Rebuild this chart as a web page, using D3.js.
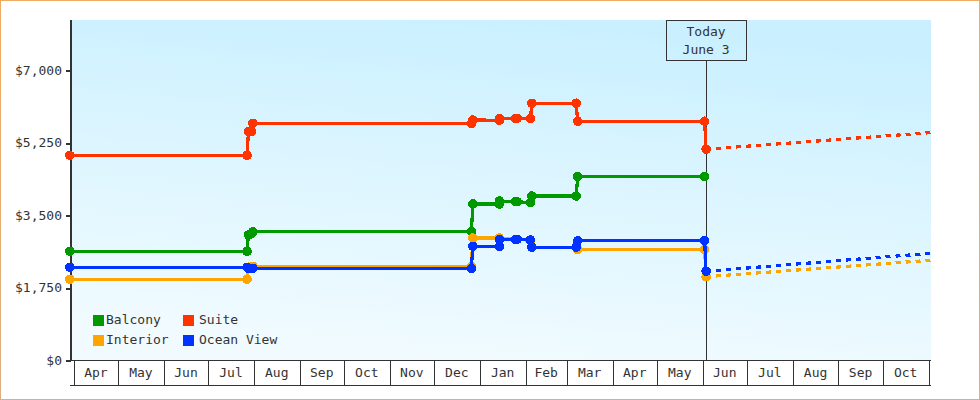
<!DOCTYPE html>
<html>
<head>
<meta charset="utf-8">
<script src="https://cdn.jsdelivr.net/npm/d3@7"></script>
<style>
  html, body { margin: 0; padding: 0; background: #fff; }
  svg { display: block; }
  text { font-family: "DejaVu Sans Mono", monospace; font-size: 13px; fill: #333; }
  .axis path, .axis line { stroke: #333; shape-rendering: crispEdges; }
  .mark { shape-rendering: crispEdges; }
</style>
</head>
<body>
<div id="chart"></div>
<script>
const monthLabels = ['Apr','May','Jun','Jul','Aug','Sep','Oct','Nov','Dec','Jan','Feb','Mar','Apr','May','Jun','Jul','Aug','Sep','Oct'];
const priceTicks = [0, 1750, 3500, 5250, 7000];
const legendNames = ['Balcony', 'Interior', 'Suite', 'Ocean View'];

const balconyDates = ['2013-03-29','2013-07-27','2013-07-28','2013-07-30','2013-07-31','2013-12-26','2013-12-27','2014-01-14','2014-01-14','2014-01-25','2014-01-26','2014-02-04','2014-02-05','2014-03-07','2014-03-08','2014-06-02'];
const balconyPrices = [2636, 2636, 3030, 3060, 3110, 3110, 3778, 3778, 3850, 3833, 3833, 3810, 3970, 3970, 4444, 4444];

const sharedDates = ['2013-03-29','2013-07-27','2013-07-28','2013-07-30','2013-07-31','2013-12-26','2013-12-27','2014-01-14','2014-01-14','2014-01-25','2014-01-26','2014-02-04','2014-02-05','2014-03-07','2014-03-08','2014-06-02','2014-06-03'];
const suitePrices = [4950, 4950, 5530, 5530, 5725, 5725, 5805, 5800, 5845, 5845, 5845, 5845, 6210, 6210, 5775, 5775, 5100];
const interiorPrices = [1960, 1960, 2250, 2250, 2275, 2275, 2957, 2957, 2945, 2925, 2925, 2900, 2732, 2732, 2680, 2680, 2023];
const oceanPrices = [2250, 2250, 2225, 2225, 2225, 2225, 2757, 2757, 2925, 2925, 2925, 2910, 2732, 2732, 2890, 2900, 2153];

const forecastDates = ['2014-06-03', '2014-11-02'];
const suiteForecast = [5100, 5500];
const interiorForecast = [2023, 2420];
const oceanForecast = [2153, 2587];

const todayDate = '2014-06-03';

const width = 980;
const height = 400;
const parseDay = d3.timeParse('%Y-%m-%d');
const colors = { Balcony: '#009900', Interior: '#ffa500', Suite: '#ff3300', 'Ocean View': '#0033ff' };

const x = d3.scaleTime()
  .domain([parseDay('2013-04-01'), parseDay('2014-11-01')])
  .range([73.8, 928.5]);
const y = d3.scaleLinear()
  .domain([0, 7000])
  .range([360.5, 70.5]);

const svg = d3.select('#chart').append('svg')
  .attr('width', width)
  .attr('height', height);

const defs = svg.append('defs');
const bg = defs.append('linearGradient')
  .attr('id', 'plot-bg')
  .attr('gradientUnits', 'userSpaceOnUse')
  .attr('x1', 470).attr('y1', 360).attr('x2', 500).attr('y2', 20);
bg.append('stop').attr('offset', '0%').attr('stop-color', '#f1fbff');
bg.append('stop').attr('offset', '100%').attr('stop-color', '#caf0ff');

const edge = defs.append('linearGradient')
  .attr('id', 'frame')
  .attr('gradientUnits', 'userSpaceOnUse')
  .attr('x1', 0).attr('y1', 0).attr('x2', 0).attr('y2', 400);
edge.append('stop').attr('offset', '0%').attr('stop-color', '#f0ac60');
edge.append('stop').attr('offset', '100%').attr('stop-color', '#dcae80');

svg.append('rect')
  .attr('x', 0.5).attr('y', 0.5)
  .attr('width', width - 1).attr('height', height - 1)
  .attr('fill', '#fff')
  .attr('stroke', 'url(#frame)');

// plot background
svg.append('rect')
  .attr('x', 72).attr('y', 20)
  .attr('width', 859).attr('height', 340)
  .attr('fill', 'url(#plot-bg)');

// month axis: boxes along the bottom, labels sit between the ticks
const monthStarts = d3.timeMonth.range(parseDay('2013-04-01'), parseDay('2014-11-02'));
const xAxis = d3.axisBottom(x)
  .tickValues(monthStarts)
  .tickSize(25)
  .tickFormat('');
const xg = svg.append('g')
  .attr('class', 'axis')
  .attr('transform', 'translate(0,360)')
  .call(xAxis);
xg.select('.domain').remove();
xg.append('line').attr('x1', 71).attr('x2', 931).attr('y1', 0.5).attr('y2', 0.5);
xg.append('line').attr('x1', 70).attr('x2', 931).attr('y1', 25.5).attr('y2', 25.5);

xg.selectAll('.month')
  .data(monthLabels)
.join('text')
  .attr('class', 'month')
  .attr('x', (d, i) => (x(monthStarts[i]) + x(monthStarts[i + 1])) / 2)
  .attr('y', 13)
  .attr('dy', '0.3em')
  .attr('text-anchor', 'middle')
  .text(d => d);

// today marker
const todayX = x(parseDay(todayDate)) + 0.5;
svg.append('line')
  .attr('class', 'mark')
  .attr('x1', todayX).attr('x2', todayX)
  .attr('y1', 60).attr('y2', 360)
  .attr('stroke', '#333');
svg.append('rect')
  .attr('class', 'mark')
  .attr('x', 666.5).attr('y', 20.5)
  .attr('width', 80).attr('height', 40)
  .attr('fill', 'none')
  .attr('stroke', '#333');
svg.append('text')
  .attr('x', todayX).attr('y', 32)
  .attr('dy', '0.3em')
  .attr('text-anchor', 'middle')
  .text('Today');
svg.append('text')
  .attr('x', todayX).attr('y', 50)
  .attr('dy', '0.3em')
  .attr('text-anchor', 'middle')
  .text('June 3');

// price axis
const yAxis = d3.axisLeft(y)
  .tickValues(priceTicks)
  .tickSize(5)
  .tickPadding(4)
  .tickFormat(d3.format('$,'));
const yg = svg.append('g')
  .attr('class', 'axis')
  .attr('transform', 'translate(71,0)')
  .call(yAxis);
yg.select('.domain').remove();
yg.selectAll('.tick line').attr('stroke-width', 2);
yg.selectAll('.tick text').attr('dy', '0.28em');
yg.append('line')
  .attr('x1', 0).attr('x2', 0)
  .attr('y1', 20).attr('y2', 361)
  .attr('stroke-width', 2);

const line = d3.line()
  .x(d => x(parseDay(d.date)) + 0.5)
  .y(d => y(d.price));
const zip = (dates, prices) => dates.map((date, i) => ({ date: date, price: prices[i] }));

const series = [
  { name: 'Balcony', rows: zip(balconyDates, balconyPrices), forecast: null },
  { name: 'Suite', rows: zip(sharedDates, suitePrices), forecast: zip(forecastDates, suiteForecast) },
  { name: 'Interior', rows: zip(sharedDates, interiorPrices), forecast: zip(forecastDates, interiorForecast) },
  { name: 'Ocean View', rows: zip(sharedDates, oceanPrices), forecast: zip(forecastDates, oceanForecast) }
];

const marker = d3.symbol().type(d3.symbolCircle).size(72);

// make a line for each cabin type
series.forEach(function(s) {
  const g = svg.append('g').attr('class', 'mark');
  if (s.forecast) {
    g.append('path')
      .attr('d', line(s.forecast))
      .attr('fill', 'none')
      .attr('stroke', colors[s.name])
      .attr('stroke-width', 3.2)
      .attr('stroke-dasharray', '5,5');
  }
  g.append('path')
    .attr('d', line(s.rows))
    .attr('fill', 'none')
    .attr('stroke', colors[s.name])
    .attr('stroke-width', 3.2);
  g.selectAll('path.dot')
    .data(s.rows)
  .join('path')
    .attr('class', 'dot')
    .attr('d', marker)
    .attr('transform', d => 'translate(' + (x(parseDay(d.date)) + 0.5) + ',' + y(d.price) + ')')
    .attr('fill', colors[s.name]);
});

// legend, filled column by column
const legendX = [93, 183];
const legendY = [315, 335];
const legend = svg.append('g');
legend.selectAll('rect')
  .data(legendNames)
.join('rect')
  .attr('x', (d, i) => legendX[Math.floor(i / 2)])
  .attr('y', (d, i) => legendY[i % 2])
  .attr('width', 11)
  .attr('height', 11)
  .attr('fill', d => colors[d]);
legend.selectAll('text')
  .data(legendNames)
.join('text')
  .attr('x', (d, i) => legendX[Math.floor(i / 2)] + 13 + Math.floor(i / 2) * 3)
  .attr('y', (d, i) => legendY[i % 2] + 5)
  .attr('dy', '0.3em')
  .text(d => d);
</script>
</body>
</html>
